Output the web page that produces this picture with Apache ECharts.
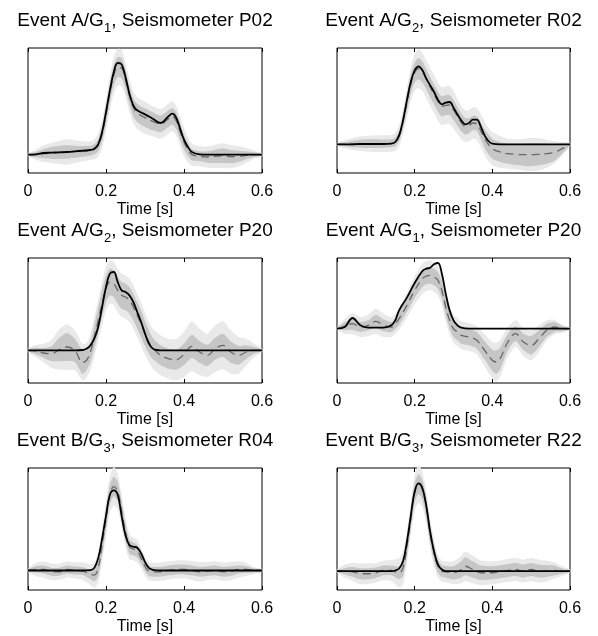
<!DOCTYPE html>
<html>
<head>
<meta charset="utf-8">
<script src="https://cdn.jsdelivr.net/npm/echarts@6/dist/echarts.min.js"></script>
<style>
  html, body { margin: 0; padding: 0; background: #fff; }
  #chart { width: 598px; height: 636px; }
</style>
</head>
<body>
<div id="chart"></div>
<script>
// ---------- Titles ----------
const titleEvents   = ['Event A/G', 'Event A/G', 'Event A/G', 'Event A/G', 'Event B/G', 'Event B/G'];
const titleSubs     = ['1', '2', '2', '1', '3', '3'];
const titleStations = [', Seismometer P02', ', Seismometer R02', ', Seismometer P20', ', Seismometer P20', ', Seismometer R04', ', Seismometer R22'];
const xTicks = [0, 0.2, 0.4, 0.6];
const xName = 'Time [s]';

// ---------- Panel 1: A/G1 P02 ----------
const p1_t = [0,0.02,0.04,0.06,0.08,0.10,0.12,0.14,0.16,0.17,0.18,0.19,0.20,0.21,0.22,0.23,0.24,0.25,0.26,0.27,0.28,0.30,0.32,0.34,0.36,0.37,0.38,0.39,0.40,0.41,0.42,0.44,0.46,0.48,0.50,0.52,0.54,0.56,0.58,0.60];
const p1_black = [0,0.01,0.05,0.06,0.07,0.08,0.10,0.12,0.14,0.18,0.31,0.68,1.28,1.93,2.48,2.75,2.71,2.33,1.83,1.48,1.33,1.21,1.08,0.95,1.15,1.23,1.11,0.78,0.45,0.23,0.08,0.01,0,0,0,0,0,0,0,0];
const p1_mean  = [0,0,0.03,0.05,0.07,0.08,0.09,0.10,0.12,0.16,0.28,0.62,1.2,1.85,2.38,2.62,2.6,2.25,1.78,1.42,1.25,1.11,1.0,0.92,1.08,1.15,1.02,0.7,0.38,0.15,0.0,-0.05,-0.07,-0.05,-0.03,-0.06,-0.05,-0.02,0,0];
const p1_inner = [0.03,0.08,0.14,0.18,0.2,0.2,0.18,0.16,0.15,0.15,0.18,0.22,0.25,0.28,0.3,0.3,0.3,0.28,0.27,0.27,0.27,0.28,0.27,0.25,0.25,0.25,0.25,0.25,0.22,0.2,0.17,0.15,0.17,0.2,0.22,0.2,0.17,0.12,0.07,0.03];
const p1_outer = [0.05,0.15,0.25,0.3,0.35,0.38,0.35,0.3,0.28,0.3,0.35,0.42,0.48,0.52,0.55,0.55,0.55,0.52,0.5,0.48,0.48,0.48,0.45,0.45,0.45,0.45,0.45,0.45,0.42,0.38,0.33,0.3,0.32,0.35,0.37,0.35,0.3,0.22,0.12,0.05];

// ---------- Panel 2: A/G2 R02 ----------
const p2_t = [0,0.02,0.04,0.06,0.08,0.10,0.12,0.14,0.15,0.16,0.17,0.18,0.19,0.20,0.21,0.22,0.23,0.24,0.25,0.26,0.27,0.28,0.29,0.30,0.31,0.32,0.33,0.34,0.35,0.36,0.37,0.38,0.39,0.40,0.42,0.44,0.46,0.48,0.50,0.52,0.54,0.56,0.58,0.60];
const p2_black = [0,0,0,0.01,0.01,0.01,0.01,0.02,0.07,0.27,0.72,1.32,1.87,2.22,2.34,2.22,1.97,1.77,1.57,1.34,1.20,1.25,1.27,1.10,0.90,0.72,0.60,0.64,0.74,0.74,0.54,0.27,0.10,0.02,0,0,0,0,0,0,0,0,0,0];
const p2_mean  = [0,0,0.01,0.02,0.02,0.02,0.02,0.03,0.07,0.25,0.68,1.25,1.8,2.15,2.27,2.17,1.95,1.72,1.5,1.28,1.14,1.17,1.18,1.03,0.84,0.66,0.54,0.56,0.64,0.62,0.42,0.18,0.0,-0.13,-0.23,-0.28,-0.3,-0.31,-0.31,-0.3,-0.28,-0.24,-0.13,0];
const p2_inner = [0.02,0.06,0.1,0.12,0.13,0.13,0.12,0.12,0.13,0.15,0.2,0.25,0.28,0.3,0.32,0.32,0.3,0.3,0.3,0.3,0.3,0.3,0.3,0.3,0.28,0.27,0.25,0.23,0.22,0.22,0.25,0.28,0.3,0.3,0.3,0.3,0.32,0.33,0.35,0.33,0.3,0.25,0.15,0.03];
const p2_outer = [0.04,0.12,0.18,0.22,0.24,0.25,0.25,0.25,0.27,0.32,0.38,0.45,0.5,0.55,0.58,0.58,0.57,0.57,0.57,0.57,0.57,0.57,0.57,0.57,0.53,0.5,0.48,0.47,0.47,0.48,0.5,0.5,0.5,0.5,0.48,0.45,0.45,0.48,0.5,0.48,0.42,0.33,0.2,0.05];

// ---------- Panel 3: A/G2 P20 ----------
const p3_t = [0,0.02,0.04,0.06,0.08,0.10,0.12,0.14,0.15,0.16,0.17,0.18,0.19,0.20,0.21,0.22,0.23,0.24,0.25,0.26,0.27,0.28,0.29,0.30,0.31,0.32,0.33,0.34,0.36,0.38,0.40,0.42,0.44,0.46,0.48,0.50,0.52,0.54,0.56,0.58,0.60];
const p3_black = [0,0,0,0,0,0,0,0.01,0.05,0.15,0.35,0.7,1.3,1.9,2.3,2.35,2.05,1.8,1.75,1.65,1.45,1.15,0.85,0.5,0.2,0.05,0.01,0,0,0,0,0,0,0,0,0,0,0,0,0,0];
const p3_mean  = [0,-0.02,-0.08,-0.1,0.02,0.1,0.0,-0.36,-0.3,-0.05,0.4,0.9,1.4,1.85,2.05,2.0,1.8,1.65,1.6,1.5,1.3,1.05,0.8,0.5,0.25,0.05,-0.05,-0.15,-0.25,-0.28,-0.12,0.12,-0.05,-0.15,0.05,0.15,-0.05,-0.15,-0.05,0.0,0];
const p3_inner = [0.03,0.1,0.15,0.22,0.35,0.42,0.35,0.35,0.3,0.3,0.35,0.38,0.4,0.4,0.4,0.4,0.4,0.4,0.4,0.4,0.4,0.4,0.4,0.38,0.35,0.32,0.3,0.3,0.3,0.3,0.32,0.35,0.33,0.32,0.33,0.35,0.32,0.28,0.2,0.1,0.03];
const p3_outer = [0.05,0.18,0.28,0.42,0.6,0.68,0.6,0.55,0.52,0.55,0.6,0.62,0.65,0.65,0.65,0.65,0.65,0.65,0.65,0.65,0.65,0.65,0.65,0.63,0.6,0.6,0.6,0.6,0.6,0.62,0.68,0.75,0.7,0.65,0.7,0.72,0.65,0.55,0.4,0.2,0.05];

// ---------- Panel 4: A/G1 P20 ----------
const p4_t = [0,0.02,0.04,0.06,0.08,0.10,0.12,0.14,0.15,0.16,0.18,0.20,0.22,0.23,0.24,0.25,0.26,0.27,0.28,0.29,0.30,0.31,0.32,0.34,0.36,0.38,0.40,0.41,0.42,0.44,0.46,0.48,0.50,0.52,0.54,0.56,0.58,0.60];
const p4_black = [0,0.05,0.32,0.1,0.03,0.03,0.03,0.1,0.25,0.55,0.93,1.37,1.73,1.8,1.83,1.93,1.97,1.65,1.05,0.55,0.25,0.1,0.03,0,0,0,0,0,0,0,0,0,0,0,0,0,0,0];
const p4_mean  = [0,0.07,0.15,0.05,0.1,0.22,0.1,0.05,0.15,0.3,0.7,1.15,1.5,1.58,1.6,1.55,1.45,1.15,0.65,0.25,0.0,-0.1,-0.2,-0.25,-0.35,-0.65,-0.95,-1.0,-0.9,-0.4,-0.15,-0.4,-0.5,-0.3,-0.05,0.05,0.0,0];
const p4_inner = [0.02,0.12,0.18,0.15,0.15,0.2,0.18,0.15,0.15,0.18,0.2,0.22,0.25,0.25,0.25,0.25,0.25,0.25,0.25,0.25,0.25,0.25,0.25,0.25,0.25,0.27,0.32,0.35,0.33,0.25,0.22,0.25,0.28,0.25,0.2,0.15,0.08,0.02];
const p4_outer = [0.04,0.22,0.32,0.3,0.32,0.38,0.35,0.3,0.3,0.32,0.38,0.42,0.45,0.45,0.45,0.45,0.45,0.45,0.45,0.42,0.42,0.42,0.42,0.42,0.42,0.48,0.55,0.58,0.55,0.45,0.4,0.42,0.45,0.4,0.3,0.22,0.12,0.04];

// ---------- Panel 5: B/G3 R04 ----------
const p5_t = [0,0.02,0.04,0.06,0.08,0.10,0.12,0.14,0.16,0.17,0.18,0.19,0.20,0.21,0.22,0.23,0.24,0.25,0.26,0.27,0.28,0.29,0.30,0.31,0.32,0.34,0.36,0.38,0.40,0.42,0.44,0.46,0.48,0.50,0.52,0.54,0.56,0.58,0.60];
const p5_black = [0,0,0,0,0,0,0,0,0.01,0.08,0.38,0.98,1.68,2.33,2.46,2.33,1.68,1.08,0.78,0.73,0.7,0.53,0.26,0.08,0.02,0,0,0,0,0,0,0,0,0,0,0,0,0,0];
const p5_mean  = [0,0.03,0.03,-0.04,-0.04,0.03,0,-0.02,-0.12,-0.14,0.08,0.78,1.58,2.33,2.58,2.43,1.83,1.18,0.73,0.66,0.6,0.38,0.13,-0.02,-0.04,-0.04,0,0.03,0.03,0,-0.04,-0.02,0,-0.04,-0.02,0.03,0.03,0,0];
const p5_inner = [0.03,0.1,0.12,0.12,0.12,0.12,0.12,0.12,0.15,0.2,0.25,0.3,0.3,0.3,0.3,0.3,0.3,0.25,0.22,0.2,0.2,0.18,0.15,0.15,0.15,0.15,0.15,0.15,0.15,0.15,0.15,0.15,0.15,0.15,0.15,0.12,0.1,0.06,0.03];
const p5_outer = [0.05,0.2,0.25,0.25,0.25,0.25,0.25,0.27,0.32,0.4,0.45,0.5,0.55,0.55,0.6,0.55,0.5,0.45,0.4,0.35,0.35,0.3,0.3,0.28,0.28,0.28,0.28,0.28,0.28,0.3,0.3,0.28,0.28,0.28,0.28,0.25,0.2,0.1,0.05];

// ---------- Panel 6: B/G3 R22 ----------
const p6_t = [0,0.02,0.04,0.06,0.08,0.10,0.12,0.14,0.15,0.16,0.17,0.18,0.19,0.20,0.21,0.22,0.23,0.24,0.25,0.26,0.27,0.28,0.30,0.32,0.33,0.35,0.37,0.40,0.42,0.44,0.46,0.48,0.50,0.52,0.54,0.56,0.58,0.60];
const p6_black = [0,0,0,0,0,0,0,0,0.02,0.08,0.3,0.9,1.7,2.45,2.7,2.55,2.0,1.2,0.6,0.2,0.05,0,0,0,0,0,0,0,0,0,0,0,0,0,0,0,0,0];
const p6_mean  = [0,0,-0.02,-0.08,-0.08,-0.05,0.02,0.02,-0.02,-0.05,0.1,0.75,1.6,2.4,2.68,2.5,1.95,1.15,0.55,0.15,0.0,-0.02,-0.05,0.05,0.15,0.05,-0.05,-0.05,-0.02,0.02,0.05,0,0.05,0,0,0.02,0,0];
const p6_inner = [0.03,0.1,0.15,0.17,0.17,0.16,0.15,0.15,0.17,0.2,0.25,0.28,0.3,0.3,0.3,0.3,0.3,0.28,0.25,0.2,0.18,0.18,0.2,0.25,0.28,0.25,0.22,0.2,0.2,0.2,0.2,0.2,0.2,0.2,0.18,0.15,0.08,0.03];
const p6_outer = [0.05,0.2,0.28,0.32,0.32,0.3,0.3,0.32,0.38,0.45,0.5,0.5,0.5,0.55,0.58,0.55,0.5,0.45,0.4,0.35,0.32,0.32,0.35,0.42,0.45,0.42,0.38,0.35,0.35,0.35,0.35,0.35,0.35,0.35,0.32,0.25,0.15,0.05];

// ---------- Layout (not data) ----------
const yRanges = [[-0.55, 3.2], [-0.86, 2.89], [-0.98, 2.77], [-1.63, 2.12], [-0.6, 3.15], [-0.58, 3.17]];
const colLeft = [28, 337], colWidth = [234, 233];
const rowTop = [48, 258, 468], plotH = 125;
const titleY = [21, 231, 441];

const panels = [
  [p1_t, p1_black, p1_mean, p1_inner, p1_outer],
  [p2_t, p2_black, p2_mean, p2_inner, p2_outer],
  [p3_t, p3_black, p3_mean, p3_inner, p3_outer],
  [p4_t, p4_black, p4_mean, p4_inner, p4_outer],
  [p5_t, p5_black, p5_mean, p5_inner, p5_outer],
  [p6_t, p6_black, p6_mean, p6_inner, p6_outer]
];

const FONT = '"Liberation Sans", Arial, Helvetica, sans-serif';
const OUTER_C = '#e9e9e9', INNER_C = '#c6c6c6';

const grid = [], xAxis = [], yAxis = [], series = [], graphic = [];
panels.forEach((p, i) => {
  const [t, blk, mean, inn, out] = p;
  [blk, mean, inn, out].forEach(a => { if (a.length !== t.length) throw new Error('len mismatch panel ' + (i+1)); });
  const col = i % 2, row = Math.floor(i / 2);
  grid.push({ left: colLeft[col], top: rowTop[row], width: colWidth[col], height: plotH,
    show: true, borderColor: '#000', borderWidth: 1, backgroundColor: '#fff', containLabel: false });
  const baseX = { gridIndex: i, type: 'value', min: xTicks[0], max: xTicks[xTicks.length-1], interval: 0.2,
    splitLine: { show: false }, axisLine: { show: false, onZero: false },
    axisTick: { show: true, inside: true, length: 4, lineStyle: { color: '#000', width: 1 } } };
  xAxis.push(Object.assign({}, baseX, { position: 'bottom',
    axisLabel: { show: true, color: '#000', fontSize: 16, fontFamily: FONT, margin: 11 },
    name: xName, nameLocation: 'middle', nameGap: 29,
    nameTextStyle: { color: '#000', fontSize: 16, fontFamily: FONT } }));
  xAxis.push(Object.assign({}, baseX, { position: 'top', axisLabel: { show: false } }));
  yAxis.push({ gridIndex: i, type: 'value', min: yRanges[i][0], max: yRanges[i][1], show: false,
    axisLine: { onZero: false }, splitLine: { show: false } });

  const xi = i * 2;
  const mk = (fn) => t.map((tv, k) => [tv, fn(k)]);
  // band drawn as one smoothed polygon through the axis coordinate system
  const band = (w, color) => {
    const data = t.map((tv, k) => [tv, mean[k] - w[k], mean[k] + w[k]]);
    series.push({ type: 'custom', xAxisIndex: xi, yAxisIndex: i, data: data, silent: true,
      encode: { x: 0, y: [1, 2] },
      renderItem: (params, api) => {
        if (params.dataIndex !== 0) return null;
        const upper = data.map(d => api.coord([d[0], d[2]]));
        const lower = data.map(d => api.coord([d[0], d[1]])).reverse();
        return { type: 'polygon', shape: { points: upper.concat(lower), smooth: 0.25 },
          style: { fill: color, stroke: null } };
      } });
  };
  band(out, OUTER_C);
  band(inn, INNER_C);
  series.push({ type: 'line', xAxisIndex: xi, yAxisIndex: i, data: mk(k => mean[k]), symbol: 'none', smooth: 0.4,
    lineStyle: { color: '#666', width: 1.3, type: [8, 5] }, silent: true });
  series.push({ type: 'line', xAxisIndex: xi, yAxisIndex: i, data: mk(k => blk[k]), symbol: 'none', smooth: 0.4,
    lineStyle: { color: '#000', width: 1.8 }, silent: true });

  graphic.push({ type: 'text', x: colLeft[col] + colWidth[col] / 2, y: titleY[row], silent: true,
    style: {
      text: '{a|' + titleEvents[i] + '}{s|' + titleSubs[i] + '}{a|' + titleStations[i] + '}',
      align: 'center', verticalAlign: 'middle', fill: '#000',
      rich: {
        a: { fontSize: 19, fontFamily: FONT, lineHeight: 28, fill: '#000' },
        s: { fontSize: 13, fontFamily: FONT, lineHeight: 4, verticalAlign: 'bottom', fill: '#000' }
      }
    } });
});

const chart = echarts.init(document.getElementById('chart'), null, { renderer: 'canvas' });
chart.setOption({ animation: false, backgroundColor: '#fff', grid, xAxis, yAxis, series, graphic });
</script>
</body>
</html>
